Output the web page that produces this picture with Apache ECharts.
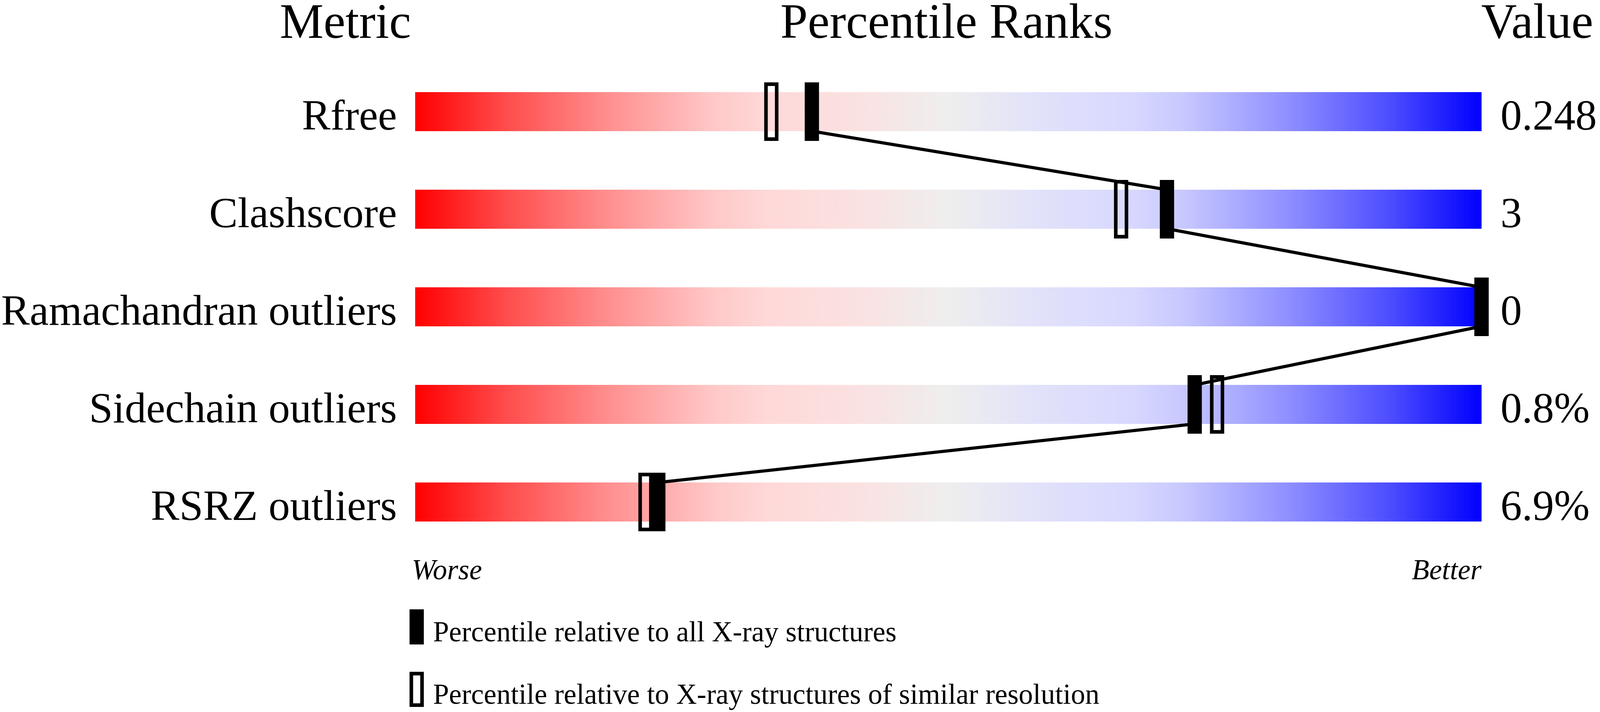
<!DOCTYPE html>
<html>
<head>
<meta charset="utf-8">
<script src="https://cdn.jsdelivr.net/npm/echarts@6/dist/echarts.min.js"></script>
<style>
  html, body { margin: 0; padding: 0; background: #fff; overflow: hidden; }
  #chart { width: 100vw; height: 100vh; }
</style>
</head>
<body>
<div id="chart"></div>
<script>
'use strict';

// metrics, top to bottom
var metrics = ['Rfree', 'Clashscore', 'Ramachandran outliers', 'Sidechain outliers', 'RSRZ outliers'];
var valueLabels = ['0.248', '3', '0', '0.8%', '6.9%'];
// percentile relative to all X-ray structures (filled marker)
var pctAll = [37.2, 70.5, 100, 73.1, 22.8];
// percentile relative to structures of similar resolution (open marker)
var pctSimilar = [33.4, 66.2, 100, 75.2, 21.6];

var headers = ['Metric', 'Percentile Ranks', 'Value'];
var legendLabels = ['Percentile relative to all X-ray structures',
                    'Percentile relative to X-ray structures of similar resolution'];

var serif = 'Liberation Serif';

var gradient = new echarts.graphic.LinearGradient(0, 0, 1, 0, [
  { offset: 0,     color: '#ff0000' },
  { offset: 0.085, color: '#ff4c4c' },
  { offset: 0.18,  color: '#ff8e8e' },
  { offset: 0.28,  color: '#ffc8c8' },
  { offset: 0.33,  color: '#ffd8d8' },
  { offset: 0.42,  color: '#fae2e2' },
  { offset: 0.5,   color: '#eeeeee' },
  { offset: 0.58,  color: '#e2e2fa' },
  { offset: 0.67,  color: '#d8d8ff' },
  { offset: 0.72,  color: '#c8c8ff' },
  { offset: 0.82,  color: '#8e8eff' },
  { offset: 0.915, color: '#4c4cff' },
  { offset: 1,     color: '#0000ff' }
]);

var barData = metrics.map(function(m, i) { return [0, i, 100]; });
var segData = [];
for (var i = 0; i < pctAll.length - 1; i++) {
  segData.push([pctAll[i], i, pctAll[i+1], i+1]);
}

var chart = echarts.init(document.getElementById('chart'));
// layout was measured on a 4485 x 1824 picture
var sx = chart.getWidth() / 4485;
var sy = chart.getHeight() / 1824;

function px(v) { return v * sx; }
function py(v) { return v * sy; }
function font(size, italic) {
  return (italic ? 'italic ' : '') + px(size) + 'px "' + serif + '"';
}

function renderBar(params, api) {
  var start = api.coord([api.value(0), api.value(1)]);
  var end = api.coord([api.value(2), api.value(1)]);
  var h = api.size([0, 1])[1] * 0.4;
  return {
    type: 'rect',
    shape: { x: start[0], y: start[1] - h/2, width: end[0] - start[0], height: h },
    style: { fill: gradient }
  };
}

function renderFilled(params, api) {
  var c = api.coord([api.value(0), api.value(1)]);
  var h = api.size([0, 1])[1] * 0.6;
  return {
    type: 'rect',
    shape: { x: c[0] - px(20), y: c[1] - h/2, width: px(40), height: h },
    style: { fill: '#000' }
  };
}

function renderOpen(params, api) {
  var c = api.coord([api.value(0), api.value(1)]);
  var h = api.size([0, 1])[1] * 0.6;
  return {
    type: 'rect',
    shape: { x: c[0] - px(15), y: c[1] - h/2 + px(5), width: px(30), height: h - px(10) },
    style: { fill: 'none', stroke: '#000', lineWidth: px(10) }
  };
}

function renderSeg(params, api) {
  var a = api.coord([api.value(0), api.value(1)]);
  var b = api.coord([api.value(2), api.value(3)]);
  var half = api.size([0, 1])[1] * 0.2;
  return {
    type: 'line',
    shape: { x1: a[0], y1: a[1] + half, x2: b[0], y2: b[1] - half },
    style: { stroke: '#000', lineWidth: px(9) }
  };
}

// y is the text baseline in the reference picture
function textEl(str, x, y, size, align, italic) {
  return { type: 'text', x: px(x), y: py(y) - px(size) * 0.3, z: 100,
    style: { text: str, font: font(size, italic), fill: '#000',
             textAlign: align, textVerticalAlign: 'middle' } };
}

// row labels sit with their baseline on the bottom edge of the bar
var rowLineHeight = 2 * (py(50) - px(120) * 0.3);

function rowLabel(margin) {
  return {
    color: '#000', fontFamily: serif, fontSize: px(120), margin: px(margin),
    verticalAlign: 'top', lineHeight: rowLineHeight
  };
}

chart.setOption({
  animation: false,
  backgroundColor: '#fff',
  grid: { left: px(1154), width: px(2999), top: py(161), height: py(1250) },
  xAxis: { type: 'value', min: 0, max: 100, show: false },
  yAxis: [{
    type: 'category',
    data: metrics,
    inverse: true,
    axisLine: { show: false },
    axisTick: { show: false },
    splitLine: { show: false },
    axisLabel: rowLabel(51)
  }, {
    type: 'category',
    data: valueLabels,
    inverse: true,
    position: 'right',
    axisLine: { show: false },
    axisTick: { show: false },
    splitLine: { show: false },
    axisLabel: rowLabel(53)
  }],
  series: [
    { type: 'custom', renderItem: renderBar, data: barData, silent: true },
    { type: 'custom', renderItem: renderOpen,
      data: pctSimilar.map(function(p, i) { return [p, i]; }), silent: true },
    { type: 'custom', renderItem: renderSeg, data: segData, silent: true },
    { type: 'custom', renderItem: renderFilled,
      data: pctAll.map(function(p, i) { return [p, i]; }), silent: true }
  ],
  graphic: [
    textEl(headers[0], 1152, 102, 138, 'right'),
    textEl(headers[1], 2653, 102, 138, 'center'),
    textEl(headers[2], 4152, 102, 138, 'left'),
    textEl('Worse', 1154, 1487, 80, 'left', true),
    textEl('Better', 4153, 1487, 80, 'right', true),
    { type: 'rect', z: 100, shape: { x: px(1148), y: py(1561), width: px(40), height: py(90) },
      style: { fill: '#000' } },
    { type: 'rect', z: 100,
      shape: { x: px(1153), y: py(1721) + px(5), width: px(30), height: py(90) - px(10) },
      style: { fill: 'none', stroke: '#000', lineWidth: px(10) } },
    textEl(legendLabels[0], 1214, 1646, 80, 'left'),
    textEl(legendLabels[1], 1214, 1806, 80, 'left')
  ]
});
</script>
</body>
</html>
